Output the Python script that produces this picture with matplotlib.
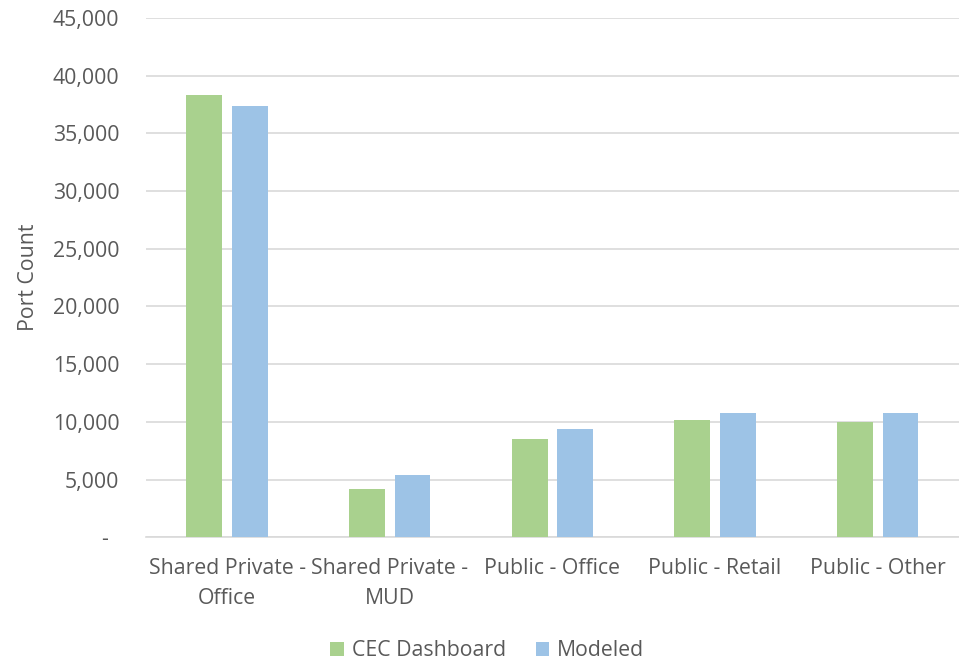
import numpy as np
import matplotlib.pyplot as plt
from matplotlib.ticker import FixedLocator, FixedFormatter

categories = ["Shared Private -\nOffice", "Shared Private -\nMUD", "Public - Office",
              "Public - Retail", "Public - Other"]
cec_dashboard = [38280, 4200, 8510, 10190, 10020]
modeled = [37390, 5420, 9410, 10800, 10800]
y_ticks = [0, 5000, 10000, 15000, 20000, 25000, 30000, 35000, 40000, 45000]
y_tick_labels = ["-  ", "5,000", "10,000", "15,000", "20,000", "25,000",
                 "30,000", "35,000", "40,000", "45,000"]

plt.rcParams['font.family'] = ['Open Sans', 'DejaVu Sans']
text_color = "#595959"
green = "#A9D18E"
blue = "#9DC3E6"
fs = 15.3

fig = plt.figure(figsize=(9.59, 6.6), dpi=100)
ax = fig.add_axes([0.152, 0.186, 0.848, 0.787])

x = np.arange(len(categories))
w = 0.22
ax.bar(x - 0.03 - w / 2, cec_dashboard, w, color=green, label="CEC Dashboard", zorder=3)
ax.bar(x + 0.03 + w / 2, modeled, w, color=blue, label="Modeled", zorder=3)

ax.set_xlim(-0.5, len(categories) - 0.5)
ax.set_ylim(0, 45000)
ax.yaxis.set_major_locator(FixedLocator(y_ticks))
ax.yaxis.set_major_formatter(FixedFormatter(y_tick_labels))
ax.set_xticks(x)
ax.set_xticklabels(categories, fontsize=fs, color=text_color, linespacing=1.55)
ax.tick_params(axis="y", length=0, pad=19, labelsize=fs, labelcolor=text_color)
ax.tick_params(axis="x", length=0, pad=15)

ax.grid(axis="y", color="#D9D9D9", linewidth=1.2, zorder=0)
for s in ["top", "right", "left"]:
    ax.spines[s].set_visible(False)
ax.spines["bottom"].set_color("#D9D9D9")
ax.spines["bottom"].set_linewidth(1.2)

ax.set_ylabel("Port Count", fontsize=fs, color=text_color, labelpad=10)

fig.legend(loc="center", bbox_to_anchor=(0.508, 0.014), ncol=2, frameon=False,
           fontsize=fs, labelcolor=text_color, handlelength=0.65, handleheight=0.65,
           handletextpad=0.35, columnspacing=1.4)

fig.savefig("out.png", dpi=100)
